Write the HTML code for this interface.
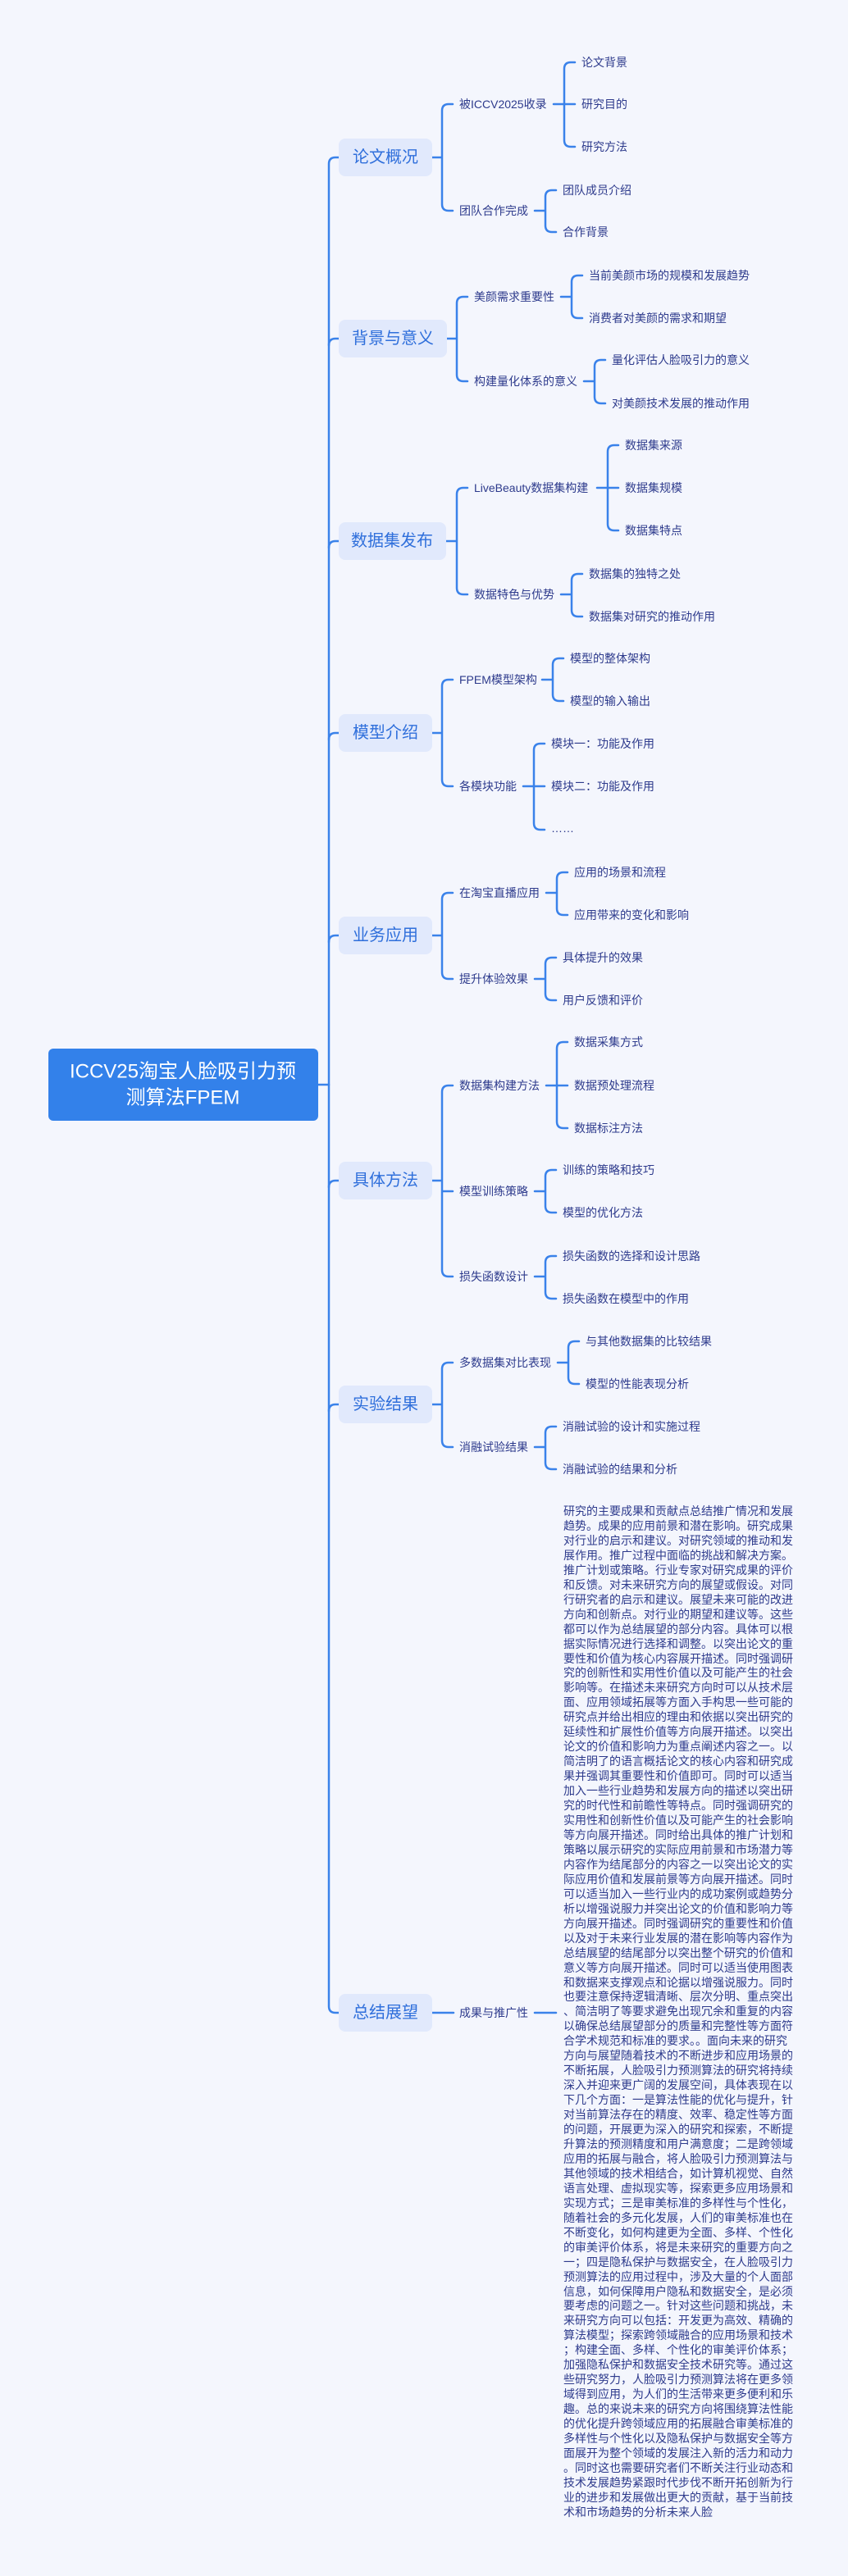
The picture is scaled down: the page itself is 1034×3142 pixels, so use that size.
<!DOCTYPE html>
<html><head><meta charset="utf-8"><style>
html,body{margin:0;padding:0;background:#f4f6fd;}
body{width:1034px;height:3142px;position:relative;overflow:hidden;font-family:"Liberation Sans","Noto Sans CJK SC",sans-serif;}
svg{position:absolute;left:0;top:0;}
.l1{font-size:20px;fill:#2f6fdb;text-anchor:middle;dominant-baseline:central;}
.t{font-size:14px;fill:#2d3a8c;dominant-baseline:central;}
#blk{position:absolute;left:687px;top:1835px;font-size:14px;line-height:17.95px;color:#2d3a8c;white-space:nowrap;}
</style></head><body>
<svg width="1034" height="3142" viewBox="0 0 1034 3142">
<g fill="none" stroke="#3a82ea" stroke-width="2.5" stroke-linecap="round">
<path d="M413 192 H409 Q401 192 401 200 V2447 Q401 2455 409 2455 H413"/>
<path d="M401 421 Q401 413 409 413 H413 M401 668 Q401 660 409 660 H413 M401 902 Q401 894 409 894 H413 M401 1149 Q401 1141 409 1141 H413 M401 1448 Q401 1440 409 1440 H413 M401 1721 Q401 1713 409 1713 H413"/>
<path d="M388 1323 H401"/>
<path d="M527 192 H539 M552 127 H547 Q539 127 539 135 V249 Q539 257 547 257 H552"/>
<path d="M675 127 H688 M701 76 H696 Q688 76 688 84 V171 Q688 179 696 179 H701 M688 127 H701"/>
<path d="M652 257 H665 M678 232 H673 Q665 232 665 240 V275 Q665 283 673 283 H678"/>
<path d="M545 413 H557 M570 362 H565 Q557 362 557 370 V457 Q557 465 565 465 H570"/>
<path d="M684 362 H697 M710 336 H705 Q697 336 697 344 V380 Q697 388 705 388 H710"/>
<path d="M712 465 H725 M738 439 H733 Q725 439 725 447 V484 Q725 492 733 492 H738"/>
<path d="M544 660 H557 M570 595 H565 Q557 595 557 603 V717 Q557 725 565 725 H570"/>
<path d="M728 595 H741 M754 543 H749 Q741 543 741 551 V639 Q741 647 749 647 H754 M741 595 H754"/>
<path d="M684 725 H697 M710 700 H705 Q697 700 697 708 V744 Q697 752 705 752 H710"/>
<path d="M527 894 H539 M552 829 H547 Q539 829 539 837 V951 Q539 959 547 959 H552"/>
<path d="M661 829 H674 M687 803 H682 Q674 803 674 811 V847 Q674 855 682 855 H687"/>
<path d="M638 959 H651 M664 907 H659 Q651 907 651 915 V1004 Q651 1012 659 1012 H664 M651 959 H664"/>
<path d="M527 1141 H539 M552 1089 H547 Q539 1089 539 1097 V1186 Q539 1194 547 1194 H552"/>
<path d="M666 1089 H679 M692 1064 H687 Q679 1064 679 1072 V1108 Q679 1116 687 1116 H692"/>
<path d="M652 1194 H665 M678 1168 H673 Q665 1168 665 1176 V1212 Q665 1220 673 1220 H678"/>
<path d="M527 1440 H539 M552 1324 H547 Q539 1324 539 1332 V1549 Q539 1557 547 1557 H552 M539 1453 H552"/>
<path d="M666 1324 H679 M692 1271 H687 Q679 1271 679 1279 V1368 Q679 1376 687 1376 H692 M679 1324 H692"/>
<path d="M652 1453 H665 M678 1427 H673 Q665 1427 665 1435 V1471 Q665 1479 673 1479 H678"/>
<path d="M652 1557 H665 M678 1532 H673 Q665 1532 665 1540 V1576 Q665 1584 673 1584 H678"/>
<path d="M527 1713 H539 M552 1662 H547 Q539 1662 539 1670 V1757 Q539 1765 547 1765 H552"/>
<path d="M680 1662 H693 M706 1636 H701 Q693 1636 693 1644 V1680 Q693 1688 701 1688 H706"/>
<path d="M652 1765 H665 M678 1740 H673 Q665 1740 665 1748 V1784 Q665 1792 673 1792 H678"/>
<path d="M527 2455 H553 M652 2455 H678"/>
</g>
<rect x="59" y="1279" width="329" height="88" rx="6" fill="#3381ea"/>
<text x="223" y="1307" fill="#fff" font-size="24" text-anchor="middle" dominant-baseline="central">ICCV25淘宝人脸吸引力预</text>
<text x="223" y="1339" fill="#fff" font-size="24" text-anchor="middle" dominant-baseline="central">测算法FPEM</text>
<g fill="#e1e9fc">
<rect x="413" y="169" width="114" height="46" rx="8"/>
<rect x="413" y="390" width="132" height="46" rx="8"/>
<rect x="413" y="637" width="131" height="46" rx="8"/>
<rect x="413" y="871" width="114" height="46" rx="8"/>
<rect x="413" y="1118" width="114" height="46" rx="8"/>
<rect x="413" y="1417" width="114" height="46" rx="8"/>
<rect x="413" y="1690" width="114" height="46" rx="8"/>
<rect x="413" y="2432" width="114" height="46" rx="8"/>
</g>
<text class="l1" x="470" y="192">论文概况</text>
<text class="l1" x="479" y="413">背景与意义</text>
<text class="l1" x="478" y="660">数据集发布</text>
<text class="l1" x="470" y="894">模型介绍</text>
<text class="l1" x="470" y="1141">业务应用</text>
<text class="l1" x="470" y="1440">具体方法</text>
<text class="l1" x="470" y="1713">实验结果</text>
<text class="l1" x="470" y="2455">总结展望</text>
<text class="t" x="560" y="127">被ICCV2025收录</text>
<text class="t" x="709" y="76">论文背景</text>
<text class="t" x="709" y="127">研究目的</text>
<text class="t" x="709" y="179">研究方法</text>
<text class="t" x="560" y="257">团队合作完成</text>
<text class="t" x="686" y="232">团队成员介绍</text>
<text class="t" x="686" y="283">合作背景</text>
<text class="t" x="578" y="362">美颜需求重要性</text>
<text class="t" x="718" y="336">当前美颜市场的规模和发展趋势</text>
<text class="t" x="718" y="388">消费者对美颜的需求和期望</text>
<text class="t" x="578" y="465">构建量化体系的意义</text>
<text class="t" x="746" y="439">量化评估人脸吸引力的意义</text>
<text class="t" x="746" y="492">对美颜技术发展的推动作用</text>
<text class="t" x="578" y="595">LiveBeauty数据集构建</text>
<text class="t" x="762" y="543">数据集来源</text>
<text class="t" x="762" y="595">数据集规模</text>
<text class="t" x="762" y="647">数据集特点</text>
<text class="t" x="578" y="725">数据特色与优势</text>
<text class="t" x="718" y="700">数据集的独特之处</text>
<text class="t" x="718" y="752">数据集对研究的推动作用</text>
<text class="t" x="560" y="829">FPEM模型架构</text>
<text class="t" x="695" y="803">模型的整体架构</text>
<text class="t" x="695" y="855">模型的输入输出</text>
<text class="t" x="560" y="959">各模块功能</text>
<text class="t" x="672" y="907">模块一：功能及作用</text>
<text class="t" x="672" y="959">模块二：功能及作用</text>
<text class="t" x="672" y="1010">……</text>
<text class="t" x="560" y="1089">在淘宝直播应用</text>
<text class="t" x="700" y="1064">应用的场景和流程</text>
<text class="t" x="700" y="1116">应用带来的变化和影响</text>
<text class="t" x="560" y="1194">提升体验效果</text>
<text class="t" x="686" y="1168">具体提升的效果</text>
<text class="t" x="686" y="1220">用户反馈和评价</text>
<text class="t" x="560" y="1324">数据集构建方法</text>
<text class="t" x="700" y="1271">数据采集方式</text>
<text class="t" x="700" y="1324">数据预处理流程</text>
<text class="t" x="700" y="1376">数据标注方法</text>
<text class="t" x="560" y="1453">模型训练策略</text>
<text class="t" x="686" y="1427">训练的策略和技巧</text>
<text class="t" x="686" y="1479">模型的优化方法</text>
<text class="t" x="560" y="1557">损失函数设计</text>
<text class="t" x="686" y="1532">损失函数的选择和设计思路</text>
<text class="t" x="686" y="1584">损失函数在模型中的作用</text>
<text class="t" x="560" y="1662">多数据集对比表现</text>
<text class="t" x="714" y="1636">与其他数据集的比较结果</text>
<text class="t" x="714" y="1688">模型的性能表现分析</text>
<text class="t" x="560" y="1765">消融试验结果</text>
<text class="t" x="686" y="1740">消融试验的设计和实施过程</text>
<text class="t" x="686" y="1792">消融试验的结果和分析</text>
<text class="t" x="560" y="2455">成果与推广性</text>
</svg>
<div id="blk">研究的主要成果和贡献点总结推广情况和发展<br>趋势。成果的应用前景和潜在影响。研究成果<br>对行业的启示和建议。对研究领域的推动和发<br>展作用。推广过程中面临的挑战和解决方案。<br>推广计划或策略。行业专家对研究成果的评价<br>和反馈。对未来研究方向的展望或假设。对同<br>行研究者的启示和建议。展望未来可能的改进<br>方向和创新点。对行业的期望和建议等。这些<br>都可以作为总结展望的部分内容。具体可以根<br>据实际情况进行选择和调整。以突出论文的重<br>要性和价值为核心内容展开描述。同时强调研<br>究的创新性和实用性价值以及可能产生的社会<br>影响等。在描述未来研究方向时可以从技术层<br>面、应用领域拓展等方面入手构思一些可能的<br>研究点并给出相应的理由和依据以突出研究的<br>延续性和扩展性价值等方向展开描述。以突出<br>论文的价值和影响力为重点阐述内容之一。以<br>简洁明了的语言概括论文的核心内容和研究成<br>果并强调其重要性和价值即可。同时可以适当<br>加入一些行业趋势和发展方向的描述以突出研<br>究的时代性和前瞻性等特点。同时强调研究的<br>实用性和创新性价值以及可能产生的社会影响<br>等方向展开描述。同时给出具体的推广计划和<br>策略以展示研究的实际应用前景和市场潜力等<br>内容作为结尾部分的内容之一以突出论文的实<br>际应用价值和发展前景等方向展开描述。同时<br>可以适当加入一些行业内的成功案例或趋势分<br>析以增强说服力并突出论文的价值和影响力等<br>方向展开描述。同时强调研究的重要性和价值<br>以及对于未来行业发展的潜在影响等内容作为<br>总结展望的结尾部分以突出整个研究的价值和<br>意义等方向展开描述。同时可以适当使用图表<br>和数据来支撑观点和论据以增强说服力。同时<br>也要注意保持逻辑清晰、层次分明、重点突出<br>、简洁明了等要求避免出现冗余和重复的内容<br>以确保总结展望部分的质量和完整性等方面符<br>合学术规范和标准的要求。。面向未来的研究<br>方向与展望随着技术的不断进步和应用场景的<br>不断拓展，人脸吸引力预测算法的研究将持续<br>深入并迎来更广阔的发展空间，具体表现在以<br>下几个方面：一是算法性能的优化与提升，针<br>对当前算法存在的精度、效率、稳定性等方面<br>的问题，开展更为深入的研究和探索，不断提<br>升算法的预测精度和用户满意度；二是跨领域<br>应用的拓展与融合，将人脸吸引力预测算法与<br>其他领域的技术相结合，如计算机视觉、自然<br>语言处理、虚拟现实等，探索更多应用场景和<br>实现方式；三是审美标准的多样性与个性化，<br>随着社会的多元化发展，人们的审美标准也在<br>不断变化，如何构建更为全面、多样、个性化<br>的审美评价体系，将是未来研究的重要方向之<br>一；四是隐私保护与数据安全，在人脸吸引力<br>预测算法的应用过程中，涉及大量的个人面部<br>信息，如何保障用户隐私和数据安全，是必须<br>要考虑的问题之一。针对这些问题和挑战，未<br>来研究方向可以包括：开发更为高效、精确的<br>算法模型；探索跨领域融合的应用场景和技术<br>；构建全面、多样、个性化的审美评价体系；<br>加强隐私保护和数据安全技术研究等。通过这<br>些研究努力，人脸吸引力预测算法将在更多领<br>域得到应用，为人们的生活带来更多便利和乐<br>趣。总的来说未来的研究方向将围绕算法性能<br>的优化提升跨领域应用的拓展融合审美标准的<br>多样性与个性化以及隐私保护与数据安全等方<br>面展开为整个领域的发展注入新的活力和动力<br>。同时这也需要研究者们不断关注行业动态和<br>技术发展趋势紧跟时代步伐不断开拓创新为行<br>业的进步和发展做出更大的贡献，基于当前技<br>术和市场趋势的分析未来人脸</div>
</body></html>
